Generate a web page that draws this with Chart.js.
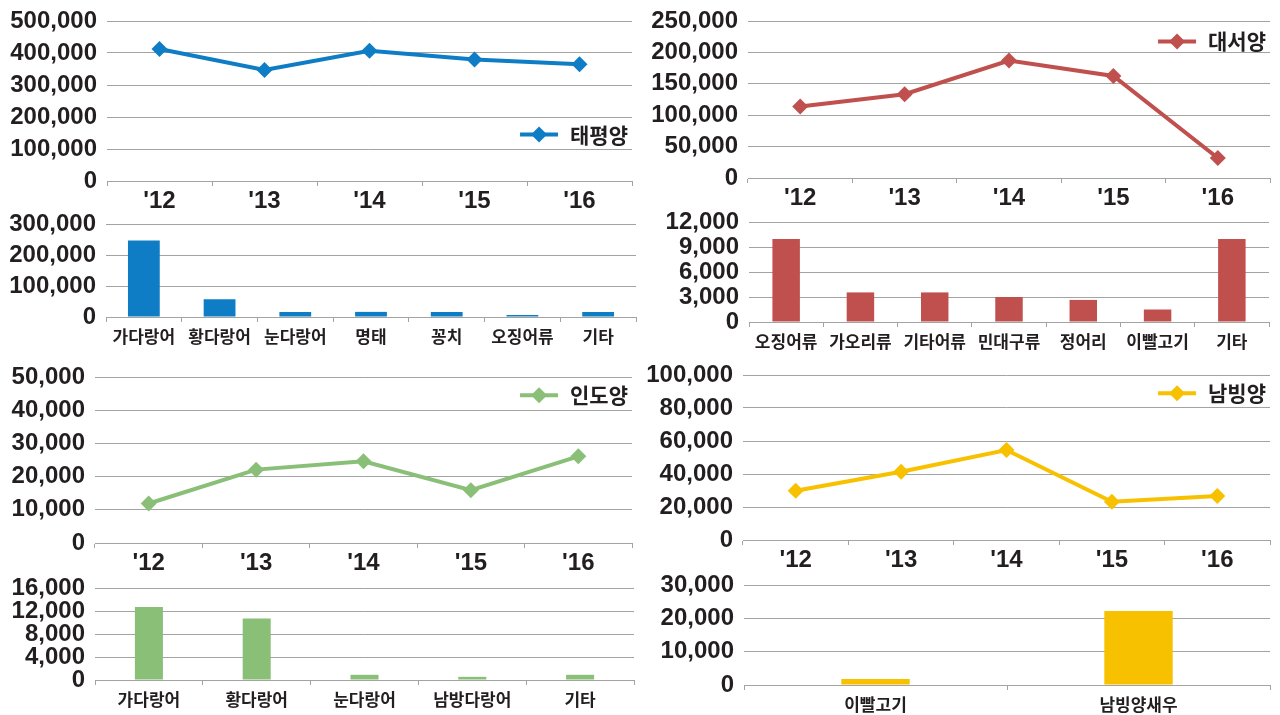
<!DOCTYPE html>
<html><head><meta charset="utf-8">
<script src="https://cdn.jsdelivr.net/npm/chart.js@4.4.1/dist/chart.umd.min.js"></script>
<style>
html,body{margin:0;padding:0;background:#fff;width:1280px;height:715px;overflow:hidden;position:relative;}
.p{position:absolute;}
.p canvas{display:block;}
</style></head><body>
<script>
// ---------- DATA ----------
const years = ["'12", "'13", "'14", "'15", "'16"];

const pacificTotal  = [412500, 347000, 407000, 380000, 364500];
const atlanticTotal = [114000, 133500, 187000, 162500, 31800];
const indianTotal   = [11900, 22100, 24600, 15900, 26100];
const southernTotal = [29900, 41400, 54500, 23200, 26700];

const pacificSpecies       = ['가다랑어', '황다랑어', '눈다랑어', '명태', '꽁치', '오징어류', '기타'];
const pacificSpeciesCatch  = [247000, 57000, 16500, 16500, 16500, 6500, 16500];
const atlanticSpecies      = ['오징어류', '가오리류', '기타어류', '민대구류', '정어리', '이빨고기', '기타'];
const atlanticSpeciesCatch = [9950, 3550, 3550, 3000, 2650, 1500, 9950];
const indianSpecies        = ['가다랑어', '황다랑어', '눈다랑어', '남방다랑어', '기타'];
const indianSpeciesCatch   = [12700, 10700, 900, 550, 900];
const southernSpecies      = ['이빨고기', '남빙양새우'];
const southernSpeciesCatch = [1800, 22200];

const pacificTotalTicks  = [0, 100000, 200000, 300000, 400000, 500000];
const atlanticTotalTicks = [0, 50000, 100000, 150000, 200000, 250000];
const indianTotalTicks   = [0, 10000, 20000, 30000, 40000, 50000];
const southernTotalTicks = [0, 20000, 40000, 60000, 80000, 100000];
const pacificSpeciesTicks  = [0, 100000, 200000, 300000];
const atlanticSpeciesTicks = [0, 3000, 6000, 9000, 12000];
const indianSpeciesTicks   = [0, 4000, 8000, 12000, 16000];
const southernSpeciesTicks = [0, 10000, 20000, 30000];

const oceanNames = ['태평양', '대서양', '인도양', '남빙양'];

// ---------- STYLE ----------
const TEXT = '#231f20';
const GRID = '#a3a3a3';
const NUM_FONT = {family: '"Liberation Sans", Arial, sans-serif', size: 24, weight: 'bold'};
const KR_FONT = {family: '"Noto Sans CJK KR", sans-serif', size: 17, weight: 'bold'};
const COLORS = {blue: '#0f7dc6', red: '#c0504d', green: '#8abf78', yellow: '#f8c100'};
const TOP_PAD = 28;

const insideLegend = {
  id: 'insideLegend',
  afterDatasetsDraw(chart, args, opts) {
    if (!opts || !opts.text) return;
    const {ctx, chartArea: a} = chart;
    ctx.save();
    ctx.font = 'bold 21px "Noto Sans CJK KR", sans-serif';
    const tw = ctx.measureText(opts.text).width;
    const tx = a.right - 4 - tw;
    const y = a.top + opts.yFrac * (a.bottom - a.top);
    ctx.fillStyle = TEXT;
    ctx.textBaseline = 'middle';
    ctx.fillText(opts.text, tx, y);
    const x2 = tx - 12, x1 = x2 - 38, xm = (x1 + x2) / 2;
    ctx.strokeStyle = opts.color; ctx.lineWidth = 4;
    ctx.beginPath(); ctx.moveTo(x1, y); ctx.lineTo(x2, y); ctx.stroke();
    ctx.fillStyle = opts.color;
    ctx.beginPath(); ctx.moveTo(xm, y - 8); ctx.lineTo(xm + 8, y); ctx.lineTo(xm, y + 8); ctx.lineTo(xm - 8, y); ctx.closePath(); ctx.fill();
    ctx.restore();
  }
};

function makePanel(box, type, labels, values, ticks, color, opts) {
  const div = document.createElement('div');
  div.className = 'p';
  const w = 640, h = box.B - box.T + TOP_PAD + box.xh;
  div.style.left = box.left + 'px';
  div.style.top = (box.T - TOP_PAD) + 'px';
  div.style.width = w + 'px';
  div.style.height = h + 'px';
  const cv = document.createElement('canvas');
  cv.width = w; cv.height = h;
  div.appendChild(cv);
  document.body.appendChild(div);

  const ds = type === 'line' ? {
    data: values, borderColor: color, backgroundColor: color, borderWidth: 4,
    pointStyle: 'rectRot', pointRadius: 8, pointBorderWidth: 0, pointBackgroundColor: color, tension: 0
  } : {
    data: values, backgroundColor: color, borderWidth: 0,
    categoryPercentage: 1, barPercentage: opts.barPct
  };

  new Chart(cv, {
    type: type,
    data: {labels: labels, datasets: [ds]},
    options: {
      responsive: false, animation: false, events: [],
      layout: {padding: {top: TOP_PAD, left: 0, bottom: 0, right: box.left + 640 - box.R}},
      plugins: {legend: {display: false}, tooltip: {enabled: false},
        insideLegend: opts.legend || false},
      scales: {
        x: {
          offset: true,
          grid: {display: true, drawOnChartArea: false, drawTicks: true, tickLength: 5, offset: true, color: GRID},
          border: {display: true, color: GRID, width: 1},
          ticks: {color: TEXT, font: type === 'line' ? NUM_FONT : KR_FONT, padding: opts.xPad, maxRotation: 0, autoSkip: false},
          afterFit: s => { s.height = box.xh; }
        },
        y: {
          min: ticks[0], max: ticks[ticks.length - 1],
          grid: {color: GRID, drawTicks: false, lineWidth: 1},
          border: {display: false},
          ticks: {color: TEXT, font: NUM_FONT, padding: 10, autoSkip: false,
            callback: v => Number(v).toLocaleString('en-US')},
          afterBuildTicks: s => { s.ticks = ticks.map(v => ({value: v})); },
          afterFit: s => { s.width = box.L - box.left; }
        }
      }
    },
    plugins: [insideLegend]
  });
}

// line panels
makePanel({left: 0, L: 107, R: 635, T: 21, B: 181, xh: 40}, 'line', years, pacificTotal, pacificTotalTicks, COLORS.blue,
  {xPad: 1, legend: {text: oceanNames[0], color: COLORS.blue, yFrac: 0.71}});
makePanel({left: 640, L: 748, R: 1270, T: 21, B: 178, xh: 40}, 'line', years, atlanticTotal, atlanticTotalTicks, COLORS.red,
  {xPad: 1, legend: {text: oceanNames[1], color: COLORS.red, yFrac: 0.13}});
makePanel({left: 0, L: 95, R: 635, T: 377, B: 543, xh: 40}, 'line', years, indianTotal, indianTotalTicks, COLORS.green,
  {xPad: 1, legend: {text: oceanNames[2], color: COLORS.green, yFrac: 0.11}});
makePanel({left: 640, L: 743, R: 1270, T: 375, B: 540, xh: 40}, 'line', years, southernTotal, southernTotalTicks, COLORS.yellow,
  {xPad: 1, legend: {text: oceanNames[3], color: COLORS.yellow, yFrac: 0.11}});

// bar panels
makePanel({left: 0, L: 106, R: 636, T: 224, B: 317, xh: 34}, 'bar', pacificSpecies, pacificSpeciesCatch, pacificSpeciesTicks, COLORS.blue,
  {xPad: 4, barPct: 0.42});
makePanel({left: 640, L: 749, R: 1269, T: 222, B: 322, xh: 34}, 'bar', atlanticSpecies, atlanticSpeciesCatch, atlanticSpeciesTicks, COLORS.red,
  {xPad: 4, barPct: 0.37});
makePanel({left: 0, L: 95, R: 634, T: 588, B: 680, xh: 34}, 'bar', indianSpecies, indianSpeciesCatch, indianSpeciesTicks, COLORS.green,
  {xPad: 4, barPct: 0.26});
makePanel({left: 640, L: 744, R: 1270, T: 585, B: 685, xh: 30}, 'bar', southernSpecies, southernSpeciesCatch, southernSpeciesTicks, COLORS.yellow,
  {xPad: 4, barPct: 0.26});
</script>
</body></html>
